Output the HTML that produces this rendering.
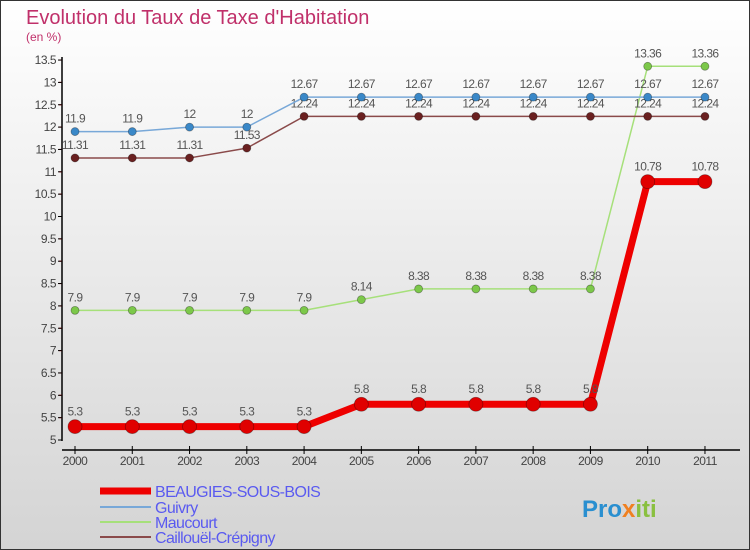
<!DOCTYPE html>
<html><head><meta charset="utf-8"><style>
body{margin:0}
svg{display:block;font-family:"Liberation Sans",sans-serif}
</style></head><body>
<svg width="750" height="550" viewBox="0 0 750 550">
<defs><linearGradient id="bg" x1="0" y1="0" x2="0" y2="1"><stop offset="0" stop-color="#ffffff"/><stop offset="1" stop-color="#d4d4d4"/></linearGradient></defs>
<rect x="0.5" y="0.5" width="749" height="549" fill="url(#bg)" stroke="#333"/>
<text x="26" y="24" font-size="20" fill="#c0306a">Evolution du Taux de Taxe d'Habitation</text>
<text x="26" y="41" font-size="12" fill="#c0306a">(en %)</text>
<g id="axes"></g>
<g id="series"></g>
<g id="legend"></g>
<text x="582" y="517" font-size="24" font-weight="bold" fill="#2a8fd0">Pro<tspan fill="#f08020">x</tspan><tspan fill="#8ac040">iti</tspan></text>
</svg>
<script>
const years=[2000,2001,2002,2003,2004,2005,2006,2007,2008,2009,2010,2011];
const yTicks=[5,5.5,6,6.5,7,7.5,8,8.5,9,9.5,10,10.5,11,11.5,12,12.5,13,13.5];
const beaugies=[5.3,5.3,5.3,5.3,5.3,5.8,5.8,5.8,5.8,5.8,10.78,10.78];
const guivry=[11.9,11.9,12,12,12.67,12.67,12.67,12.67,12.67,12.67,12.67,12.67];
const maucourt=[7.9,7.9,7.9,7.9,7.9,8.14,8.38,8.38,8.38,8.38,13.36,13.36];
const caillouel=[11.31,11.31,11.31,11.53,12.24,12.24,12.24,12.24,12.24,12.24,12.24,12.24];
const seriesNames=["BEAUGIES-SOUS-BOIS","Guivry","Maucourt","Caillouël-Crépigny"];
const NS="http://www.w3.org/2000/svg";
const xS=i=>75+i*57.27;
const yS=v=>440-(v-5)*44.7;
function mk(p,t,a){const e=document.createElementNS(NS,t);for(const k in a)e.setAttribute(k,a[k]);p.appendChild(e);return e;}
const ax=document.getElementById('axes');
let yl=mk(ax,'line',{x1:62,y1:57,x2:62,y2:441,stroke:'#000','stroke-width':1.5});


let xl=mk(ax,'line',{x1:62,y1:450,x2:740,y2:450,stroke:'#000','stroke-width':1.5});


yTicks.forEach(v=>{const y=yS(v);
 mk(ax,'line',{x1:58,y1:y,x2:62,y2:y,stroke:'#000'});
 if(v<13.5)mk(ax,'line',{x1:59,y1:y-22.35,x2:62,y2:y-22.35,stroke:'#e00'});
 const t=mk(ax,'text',{x:56,y:y+4,'font-size':12,fill:'#444','text-anchor':'end','letter-spacing':'-0.5'});t.textContent=v;
 
 });
years.forEach((yr,i)=>{const x=xS(i);
 mk(ax,'line',{x1:x,y1:446,x2:x,y2:454,stroke:'#000'});
 const t=mk(ax,'text',{x:x,y:465,'font-size':12,fill:'#444','text-anchor':'middle','letter-spacing':'-0.5'});t.textContent=yr;
 
 });
const sg=document.getElementById('series');
function draw(data,col,dot,w,r,name,labelDy){
 const g=mk(sg,'g',{});
 
 
 mk(g,'polyline',{points:data.map((v,i)=>xS(i)+','+yS(v)).join(' '),fill:'none',stroke:col,'stroke-width':w,'stroke-linejoin':'round'});
 data.forEach((v,i)=>{const c=mk(g,'circle',{cx:xS(i),cy:yS(v),r:r,fill:dot,stroke:'rgba(0,0,0,0.35)','stroke-width':0.8});
  
  
  const t=mk(g,'text',{x:xS(i),y:yS(v)+labelDy,'font-size':12,fill:'#555','text-anchor':'middle','letter-spacing':'-0.6'});t.textContent=v;
  
  });
}
draw(maucourt,'#a6e07a','#7cc84a',1.5,4,'series-maucourt',-9);
draw(caillouel,'#8a4a4a','#6a2020',1.5,4,'series-caillouel',-9);
draw(guivry,'#78a8d8','#3a88c8',1.5,4,'series-guivry',-9);
draw(beaugies,'#ee0000','#e00000',7,7,'series-beaugies',-11);
const lg=document.getElementById('legend');
const lc=['#ee0000','#78a8d8','#a6e07a','#8a4a4a'],lw=[7,2,2,2],ly=[491,507,522,537];
seriesNames.forEach((n,i)=>{const g=mk(lg,'g',{});
 
 
 mk(g,'line',{x1:100,y1:ly[i],x2:151,y2:ly[i],stroke:lc[i],'stroke-width':lw[i]});
 const t=mk(g,'text',{x:155,y:ly[i]+6,'font-size':16,fill:'#5a5af0','letter-spacing':'-0.6'});t.textContent=n;});
</script>
</body></html>
